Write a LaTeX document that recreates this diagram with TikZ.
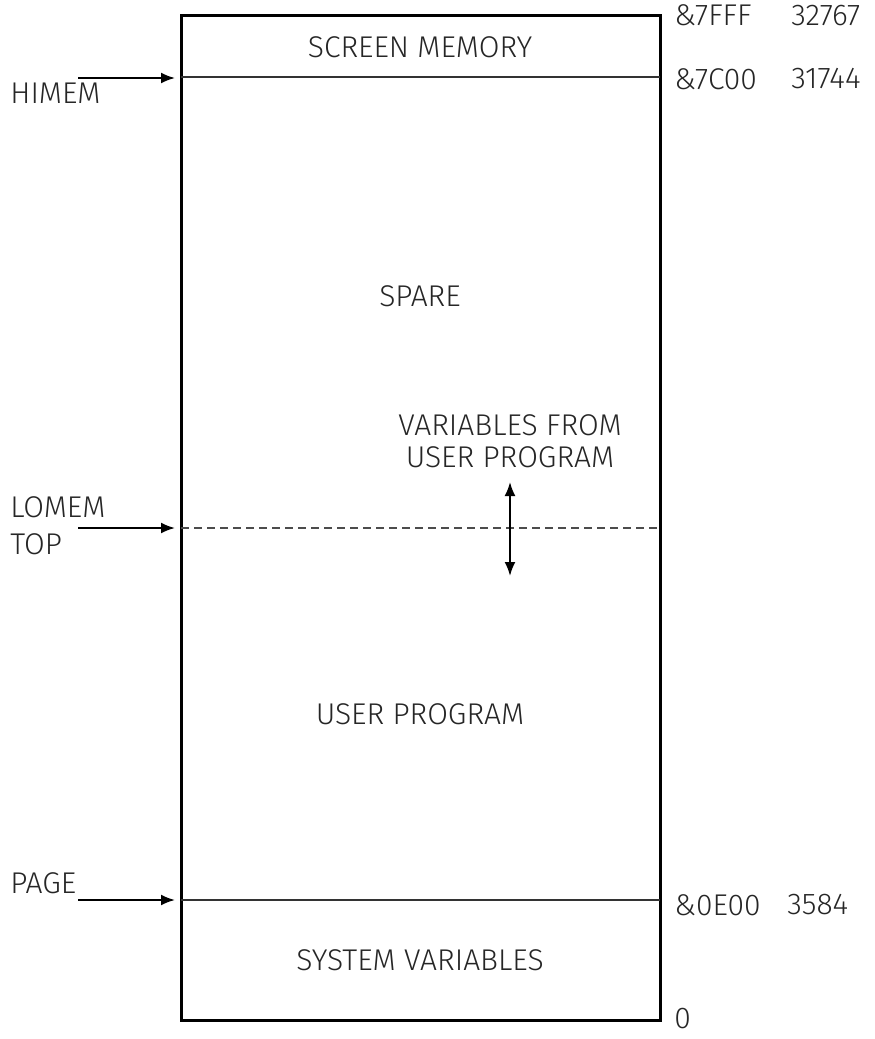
\documentclass[tikz,border=0pt]{standalone}
\usepackage{fontspec}
\setmainfont{Fira Sans Light}
\usetikzlibrary{arrows.meta}
\tikzset{
  txt/.style={font=\fontsize{15}{16}\selectfont, inner sep=0pt, text=black!85},
  ptr/.style={-{Latex[length=7pt,width=5.5pt]}, line width=1pt},
  divide/.style={line width=0.6pt, black!80},
}
\begin{document}
\begin{tikzpicture}[x=0.5pt, y=-0.5pt]
\useasboundingbox (0,0) rectangle (874,1039);
% memory map
\coordinate (tl) at (181,15);
\coordinate (br) at (660,1020);
\draw[line width=1.5pt] (tl) rectangle (br);
\draw[divide] (181,77) -- (660,77);
\draw[divide, dash pattern=on 4pt off 2.5pt, black!70] (181,528) -- (660,528);
\draw[divide] (181,900) -- (660,900);
% regions
\node[txt] (screen) at (420,47.5) {SCREEN MEMORY};
\node[txt] (spare) at (420,296) {SPARE};
\node[txt] (vars) at (510,425.5) {VARIABLES FROM};
\node[txt] (vars2) at (510,457) {USER PROGRAM};
\node[txt] (prog) at (420,714) {USER PROGRAM};
\node[txt] (sys) at (420,960) {SYSTEM VARIABLES};
\coordinate (grow1) at (510,482);
\coordinate (grow2) at (510,576);
\draw[{Latex[length=7pt,width=5.5pt]}-{Latex[length=7pt,width=5.5pt]}, line width=1pt] (grow1) -- (grow2);
% pointers
\node[txt, anchor=west] (himem) at (10,93) {HIMEM};
\node[txt, anchor=west] (lomem) at (10,507.5) {LOMEM};
\node[txt, anchor=west] (top) at (10,544.5) {TOP};
\node[txt, anchor=west] (page) at (10,883) {PAGE};
\coordinate (h1) at (78,78);  \coordinate (h2) at (175,78);
\coordinate (l1) at (78,528); \coordinate (l2) at (175,528);
\coordinate (p1) at (78,900); \coordinate (p2) at (175,900);
\draw[ptr] (h1) -- (h2);
\draw[ptr] (l1) -- (l2);
\draw[ptr] (p1) -- (p2);
% addresses
\node[txt, anchor=west] (a1) at (674,15.5) {\&7FFF};
\node[txt, anchor=west] (d1) at (791,15.5) {32767};
\node[txt, anchor=west] (a2) at (674,79) {\&7C00};
\node[txt, anchor=west] (d2) at (791,79) {31744};
\node[txt, anchor=west] (a3) at (674,905) {\&0E00};
\node[txt, anchor=west] (d3) at (787,905) {3584};
\node[txt, anchor=west] (a4) at (674,1019) {0};
\end{tikzpicture}
\end{document}
